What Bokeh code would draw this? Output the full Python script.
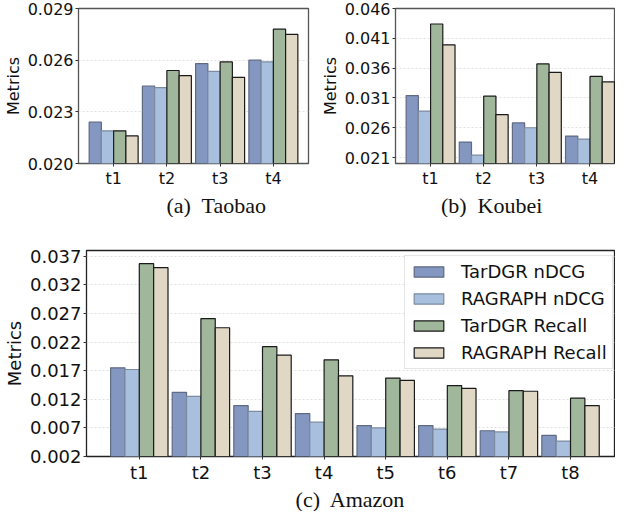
from bokeh.plotting import figure
from bokeh.layouts import column, row
from bokeh.models import Range1d, FixedTicker, PrintfTickFormatter, Legend
from bokeh.core.properties import value
from bokeh.embed import file_html
from bokeh.resources import INLINE

# ---------------- data ----------------
series_names = ["TarDGR nDCG", "RAGRAPH nDCG", "TarDGR Recall", "RAGRAPH Recall"]

taobao_cats = ["t1", "t2", "t3", "t4"]
taobao_tardgr_ndcg = [0.0224, 0.0245, 0.0258, 0.0260]
taobao_ragraph_ndcg = [0.0219, 0.0244, 0.02535, 0.0259]
taobao_tardgr_recall = [0.0219, 0.0254, 0.0259, 0.0278]
taobao_ragraph_recall = [0.0216, 0.0251, 0.0250, 0.0275]
taobao_yticks = [0.020, 0.023, 0.026, 0.029]

koubei_cats = ["t1", "t2", "t3", "t4"]
koubei_tardgr_ndcg = [0.0314, 0.0236, 0.0268, 0.0246]
koubei_ragraph_ndcg = [0.0288, 0.0214, 0.0260, 0.0241]
koubei_tardgr_recall = [0.0434, 0.0313, 0.0367, 0.0346]
koubei_ragraph_recall = [0.0399, 0.0282, 0.0353, 0.0337]
koubei_yticks = [0.021, 0.026, 0.031, 0.036, 0.041, 0.046]

amazon_cats = ["t1", "t2", "t3", "t4", "t5", "t6", "t7", "t8"]
amazon_tardgr_ndcg = [0.0175, 0.0132, 0.0109, 0.0095, 0.0074, 0.0074, 0.0065, 0.0057]
amazon_ragraph_ndcg = [0.0172, 0.0125, 0.0099, 0.0080, 0.0070, 0.0068, 0.0063, 0.0047]
amazon_tardgr_recall = [0.0357, 0.0261, 0.0212, 0.0189, 0.0157, 0.0144, 0.0135, 0.0122]
amazon_ragraph_recall = [0.0350, 0.0245, 0.0197, 0.0161, 0.0153, 0.0139, 0.0134, 0.0109]
amazon_yticks = [0.002, 0.007, 0.012, 0.017, 0.022, 0.027, 0.032, 0.037]

captions_top = ["(a)\u00a0 Taobao", "(b)\u00a0 Koubei"]
captions_bottom = ["(c)\u00a0 Amazon"]

# ---------------- styles ----------------
fills = ["#8497C0", "#A8BFDE", "#A1B79C", "#E1D7C5"]
edges = ["#5f6a85", "#7d8ba0", "#1a1a1a", "#1a1a1a"]
SANS = "DejaVu Sans"
SERIF = "Liberation Serif"
TOTAL_W = 615


def make_panel(cats, series, yticks, yrange, xrange, width, height,
               mb_left, mb_right, mb_top, mb_bottom, bar_w, outline_color, fs):
    p = figure(width=width, height=height, output_backend="svg",
               toolbar_location=None, x_range=Range1d(*xrange),
               y_range=Range1d(*yrange), min_border_left=mb_left,
               min_border_right=mb_right, min_border_top=mb_top,
               min_border_bottom=mb_bottom)
    n = len(cats)
    renderers = []
    for i, vals in enumerate(series):
        xs = [k + (i - 1.5) * bar_w for k in range(n)]
        r = p.vbar(x=xs, top=vals, bottom=0, width=bar_w,
                   fill_color=fills[i], line_color=edges[i], line_width=1.2)
        renderers.append(r)
    p.xaxis.ticker = FixedTicker(ticks=list(range(n)))
    p.xaxis.major_label_overrides = {k: c for k, c in enumerate(cats)}
    p.yaxis.ticker = FixedTicker(ticks=yticks)
    p.yaxis.formatter = PrintfTickFormatter(format="%.3f")
    p.yaxis.axis_label = "Metrics"
    for ax in (p.xaxis, p.yaxis):
        ax.major_label_text_font = SANS
        ax.major_label_text_font_size = fs
        ax.major_label_text_color = "#111111"
        ax.axis_line_color = None
        ax.minor_tick_line_color = None
        ax.minor_tick_out = 0
        ax.major_tick_in = 0
        ax.major_tick_out = 3
        ax.major_tick_line_color = "#333333"
        ax.major_label_standoff = 2
    p.yaxis.axis_label_text_font = SANS
    p.yaxis.axis_label_text_font_size = fs
    p.yaxis.axis_label_text_font_style = "normal"
    p.yaxis.axis_label_text_color = "#111111"
    p.yaxis.axis_label_standoff = 2
    p.xgrid.grid_line_color = None
    p.ygrid.ticker = FixedTicker(ticks=yticks)
    p.ygrid.grid_line_color = "#d8d8d8"
    p.ygrid.grid_line_dash = "2 2"
    p.ygrid.grid_line_width = 0.8
    p.outline_line_color = outline_color
    p.outline_line_width = 1.3
    p.background_fill_color = "white"
    p.border_fill_color = "white"
    return p, renderers


def caption_strip(texts, centers, height, ymid):
    c = figure(width=TOTAL_W, height=height, output_backend="svg",
               toolbar_location=None, x_range=Range1d(0, TOTAL_W),
               y_range=Range1d(0, height), x_axis_type=None, y_axis_type=None,
               min_border=0, outline_line_color=None)
    c.text(x=centers, y=[ymid] * len(texts), text=texts,
           text_font=value(SERIF), text_font_size=value("22px"),
           text_color="#111111", text_align="center", text_baseline="middle")
    return c


p1, _ = make_panel(taobao_cats,
                   [taobao_tardgr_ndcg, taobao_ragraph_ndcg, taobao_tardgr_recall, taobao_ragraph_recall],
                   taobao_yticks, (0.020, 0.029), (-0.66, 3.66), 317, 193,
                   69, 9, 8, 30, 0.23, "#555555", "16px")
p2, _ = make_panel(koubei_cats,
                   [koubei_tardgr_ndcg, koubei_ragraph_ndcg, koubei_tardgr_recall, koubei_ragraph_recall],
                   koubei_yticks, (0.020, 0.046), (-0.66, 3.48), 298, 193,
                   69, 0, 8, 30, 0.23, "#555555", "16px")
cap_top = caption_strip(captions_top, [151, 471], 24, 12)

p3, rs3 = make_panel(amazon_cats,
                     [amazon_tardgr_ndcg, amazon_ragraph_ndcg, amazon_tardgr_recall, amazon_ragraph_recall],
                     amazon_yticks, (0.002, 0.038), (-0.857, 7.73), TOTAL_W, 268,
                     81, 0, 33, 28, 0.233, "#222222", "18px")
cap_bottom = caption_strip(captions_bottom, [307], 26, 12)

items = [(nm, [r]) for nm, r in zip(series_names, rs3)]
lg = Legend(items=items, location=(318, 87))
lg.label_text_font = SANS
lg.label_text_font_size = "18px"
lg.label_text_color = "#111111"
lg.glyph_width = 37
lg.glyph_height = 13
lg.label_standoff = 14
lg.spacing = 6
lg.padding = 5
lg.border_line_color = "#cccccc"
lg.border_line_width = 1
lg.background_fill_color = "white"
lg.background_fill_alpha = 0.85
p3.add_layout(lg, "center")

layout = column(row(p1, p2, spacing=0), cap_top, p3, cap_bottom, spacing=0)
open("out.html", "w").write(file_html(layout, INLINE))
